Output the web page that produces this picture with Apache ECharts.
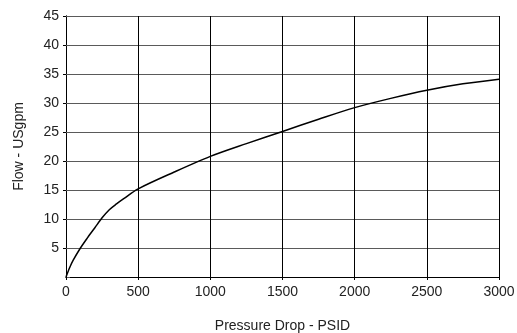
<!DOCTYPE html>
<html><head><meta charset="utf-8">
<script src="https://cdn.jsdelivr.net/npm/echarts@6/dist/echarts.min.js"></script>
<style>html,body{margin:0;padding:0;background:#fff}#c{width:517px;height:333px}</style>
</head><body><div id="c"></div>
<script>
const pressure = [0, 25, 50, 100, 150, 200, 250, 300, 350, 400, 500, 750, 1000, 1250, 1500, 1750, 2000, 2250, 2500, 2750, 3000];
const flow = [0, 1.6, 2.9, 5.0, 6.8, 8.5, 10.2, 11.6, 12.6, 13.5, 15.2, 18.1, 20.8, 23.0, 25.1, 27.2, 29.2, 30.8, 32.2, 33.3, 34.1];
const xTitle = 'Pressure Drop - PSID';
const yTitle = 'Flow - USgpm';

const chart = echarts.init(document.getElementById('c'));
const font = 'Liberation Sans, Arial, sans-serif';
chart.setOption({
  animation: false,
  grid: {left: 66, right: 18, top: 16, bottom: 56, containLabel: false, outerBoundsMode: 'none'},
  xAxis: [{
    type: 'value', min: 0, max: 3000, interval: 500,
    name: xTitle, nameLocation: 'middle', nameGap: 42,
    nameTextStyle: {fontFamily: font, fontSize: 14, color: '#222'},
    axisLine: {show: true, lineStyle: {color: '#000', width: 1}},
    axisTick: {show: true, inside: false, length: 3, lineStyle: {color: '#000'}},
    axisLabel: {fontFamily: font, fontSize: 14, color: '#222', margin: 8, formatter: v => String(v)},
    splitLine: {show: true, lineStyle: {color: '#000', width: 1}}
  }, {
    type: 'value', min: 0, max: 3000, interval: 500, position: 'top',
    axisLine: {show: true, lineStyle: {color: '#000', width: 1}},
    axisTick: {show: false}, axisLabel: {show: false}, splitLine: {show: false}
  }],
  yAxis: [{
    type: 'value', min: 0, max: 45, interval: 5,
    name: yTitle, nameLocation: 'middle', nameGap: 40,
    nameTextStyle: {fontFamily: font, fontSize: 14, color: '#222'},
    axisLine: {show: true, lineStyle: {color: '#000', width: 1}},
    axisTick: {show: true, inside: false, length: 3, lineStyle: {color: '#000'}},
    axisLabel: {fontFamily: font, fontSize: 14, color: '#222', margin: 7, showMinLabel: false},
    splitLine: {show: true, lineStyle: {color: '#5a5a5a', width: 1}}
  }, {
    type: 'value', min: 0, max: 45, interval: 5, position: 'right',
    axisLine: {show: true, lineStyle: {color: '#000', width: 1}},
    axisTick: {show: true, inside: false, length: 4, lineStyle: {color: '#555'}},
    axisLabel: {show: false},
    splitLine: {show: false}
  }],
  series: [{
    type: 'line', data: pressure.map((p, i) => [p, flow[i]]),
    smooth: 0.3, showSymbol: false, symbol: 'none',
    lineStyle: {color: '#000', width: 1.5}
  }]
});
</script></body></html>
